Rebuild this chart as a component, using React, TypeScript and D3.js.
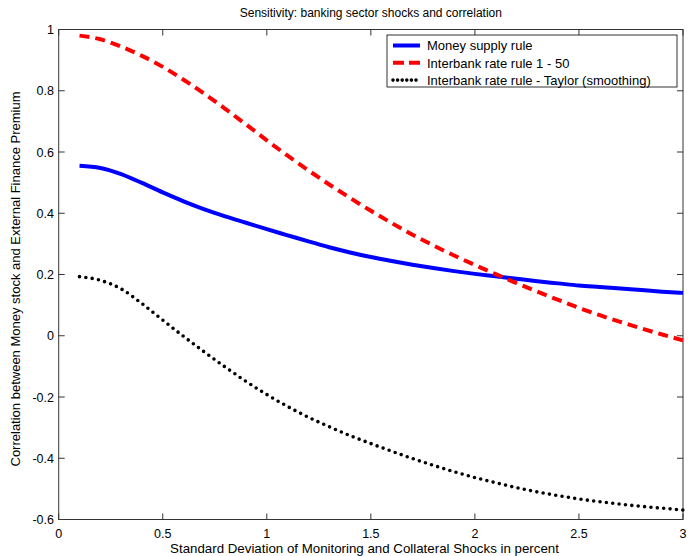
import React from "react";
import * as d3 from "d3";

const xs = [0.1,0.2,0.3,0.4,0.5,0.6,0.7,0.8,0.9,1.0,1.1,1.2,1.3,1.4,1.5,1.6,1.7,1.8,1.9,2.0,2.1,2.2,2.3,2.4,2.5,2.6,2.7,2.8,2.9,3.0];
const moneySupply = [0.555,0.548,0.528,0.499,0.468,0.439,0.413,0.390,0.369,0.348,0.328,0.308,0.289,0.272,0.257,0.244,0.232,0.221,0.211,0.202,0.194,0.186,0.178,0.171,0.164,0.159,0.154,0.149,0.144,0.140];
const interbank = [0.980,0.968,0.944,0.914,0.878,0.836,0.790,0.741,0.690,0.638,0.588,0.540,0.494,0.450,0.408,0.368,0.330,0.295,0.262,0.231,0.201,0.172,0.144,0.117,0.091,0.067,0.045,0.024,0.004,-0.015];
const taylor = [0.193,0.181,0.153,0.105,0.051,-0.002,-0.053,-0.102,-0.149,-0.192,-0.231,-0.266,-0.297,-0.326,-0.352,-0.377,-0.401,-0.423,-0.444,-0.463,-0.480,-0.496,-0.510,-0.522,-0.533,-0.542,-0.550,-0.557,-0.563,-0.569];

const xTicks = [0, 0.5, 1, 1.5, 2, 2.5, 3];
const xTickLabels = ["0", "0.5", "1", "1.5", "2", "2.5", "3"];
const yTicks = [-0.6, -0.4, -0.2, 0, 0.2, 0.4, 0.6, 0.8, 1];
const yTickLabels = ["-0.6", "-0.4", "-0.2", "0", "0.2", "0.4", "0.6", "0.8", "1"];

const seriesNames = ["Money supply rule", "Interbank rate rule 1 - 50", "Interbank rate rule - Taylor (smoothing)"];

const title = "Sensitivity: banking sector shocks and correlation";
const xLabel = "Standard Deviation of Monitoring and Collateral Shocks in percent";
const yLabel = "Correlation between Money stock and External Finance Premium";

export default function App() {
  const W = 688, H = 556;
  const left = 58.7, right = 683, top = 29.5, bottom = 519.5;
  const x = d3.scaleLinear().domain([0, 3]).range([left, right]);
  const y = d3.scaleLinear().domain([-0.6, 1]).range([bottom, top]);
  const font = "Liberation Sans, Arial, sans-serif";

  const mk = (vals: number[]) =>
    d3.line<number>().x((_, i) => x(xs[i])).y((v) => y(v)).curve(d3.curveMonotoneX)(vals) || "";

  const styles = [
    { color: "#0000ff", dash: undefined as string | undefined, legendDash: undefined as string | undefined, cap: "butt", width: 4 },
    { color: "#ff0000", dash: "10 6", legendDash: "11 5", cap: "butt", width: 4 },
    { color: "#000000", dash: "0 6.4", legendDash: "0 4.6", cap: "round", width: 3.6 },
  ];
  const data = [moneySupply, interbank, taylor];
  const tl = 6;
  const axisColor = "#333";

  return (
    <svg width={W} height={H} style={{ position: "absolute", left: 0, top: 0, background: "#fff" }} fontFamily={font}>
      <rect x={0} y={0} width={W} height={H} fill="#fff" />
      <text x={(left + right) / 2} y={17} textAnchor="middle" fontSize={12} fill="#000">{title}</text>
      <rect x={left} y={top} width={right - left} height={bottom - top} fill="none" stroke={axisColor} strokeWidth={1} />
      {xTicks.map((t, i) => (
        <g key={"xt" + i}>
          <line x1={x(t)} x2={x(t)} y1={bottom} y2={bottom - tl} stroke={axisColor} />
          <line x1={x(t)} x2={x(t)} y1={top} y2={top + tl} stroke={axisColor} />
          <text x={x(t)} y={538} textAnchor="middle" fontSize={12.5} fill="#000">{xTickLabels[i]}</text>
        </g>
      ))}
      {yTicks.map((t, i) => (
        <g key={"yt" + i}>
          <line x1={left} x2={left + tl} y1={y(t)} y2={y(t)} stroke={axisColor} />
          <line x1={right} x2={right - tl} y1={y(t)} y2={y(t)} stroke={axisColor} />
          <text x={54} y={y(t) + 4.5} textAnchor="end" fontSize={12.5} fill="#000">{yTickLabels[i]}</text>
        </g>
      ))}
      {data.map((d, i) => (
        <path key={"s" + i} d={mk(d)} fill="none" stroke={styles[i].color} strokeWidth={styles[i].width}
          strokeDasharray={styles[i].dash} strokeLinecap={styles[i].cap as any} strokeLinejoin="round" />
      ))}
      <text x={364.5} y={553} textAnchor="middle" fontSize={13.3} fill="#000">{xLabel}</text>
      <text transform={`translate(20, 279) rotate(-90)`} textAnchor="middle" fontSize={13} fill="#000">{yLabel}</text>
      <rect x={387} y={35} width={290} height={52} fill="#fff" stroke={axisColor} strokeWidth={1} />
      {seriesNames.map((n, i) => {
        const ly = 45.5 + i * 17.3;
        return (
          <g key={"lg" + i}>
            <line x1={393} x2={420} y1={ly} y2={ly} stroke={styles[i].color} strokeWidth={styles[i].width}
              strokeDasharray={styles[i].legendDash} strokeLinecap={styles[i].cap as any} />
            <text x={427} y={ly + 4.7} fontSize={13} fill="#000">{n}</text>
          </g>
        );
      })}
    </svg>
  );
}
